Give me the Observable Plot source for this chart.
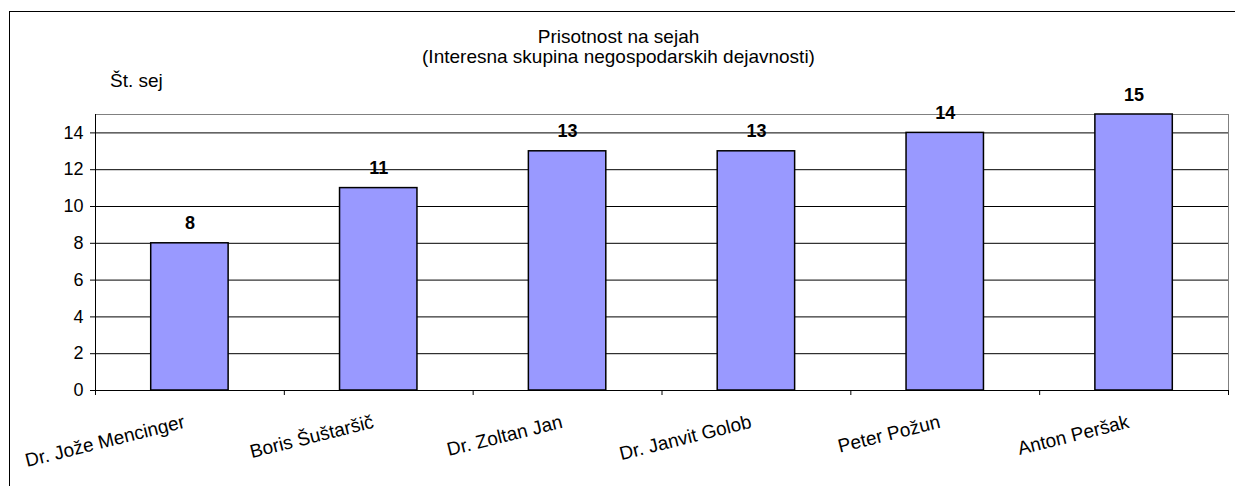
<!DOCTYPE html>
<html><head><meta charset="utf-8">
<script src="https://cdn.jsdelivr.net/npm/d3@7"></script>
<script src="https://cdn.jsdelivr.net/npm/@observablehq/plot@0.6"></script>
<style>
body{margin:0;overflow:hidden;background:#fff;font-family:"Liberation Sans",Arial,sans-serif;}
#wrap{position:relative;width:1235px;height:486px;overflow:hidden;}
#chart{position:absolute;left:0;top:0;}
#border{position:absolute;left:9px;top:11px;width:1400px;height:600px;border-left:1px solid #000;border-top:1px solid #000;pointer-events:none;}
.t{position:absolute;font-size:19px;line-height:19px;color:#000;white-space:nowrap;}
.c{left:0;width:1235px;text-align:center;}
</style></head><body>
<div id="wrap">
<div id="chart"></div>
<div class="t c" style="top:27px;padding-left:1px">Prisotnost na sejah</div>
<div class="t c" style="top:47px;padding-left:1px">(Interesna skupina negospodarskih dejavnosti)</div>
<div class="t" style="top:71px;left:110px">Št. sej</div>
<div id="border"></div>
</div>
<script>
const names = ["Dr. Jože Mencinger", "Boris Šuštaršič", "Dr. Zoltan Jan", "Dr. Janvit Golob", "Peter Požun", "Anton Peršak"];
const sessions = [8, 11, 13, 13, 14, 15];
const yTicks = [0, 2, 4, 6, 8, 10, 12, 14];
const yMax = 15;

const data = names.map((name, i) => ({name, value: sessions[i]}));

const W = 1235, H = 486, mL = 95, mR = 7, mT = 114, mB = 96;
const step = (W - mL - mR) / names.length;

const plot = Plot.plot({
  width: W, height: H,
  marginLeft: mL, marginRight: mR, marginTop: mT, marginBottom: mB,
  style: {background: "transparent", fontFamily: "'Liberation Sans', Arial, sans-serif", fontSize: "18px", color: "#000"},
  x: {domain: names, paddingInner: 0.59, paddingOuter: 0.295, round: false, axis: null, label: null},
  y: {domain: [0, yMax], axis: null, label: null},
  marks: [
    Plot.ruleY(yTicks.filter(d => d > 0), {stroke: "#000", strokeWidth: 1}),
    Plot.frame({stroke: "#808080"}),
    Plot.barY(data, {x: "name", y: "value", fill: "#9999FF", stroke: "#000", strokeWidth: 1.5}),
    Plot.ruleY([0], {stroke: "#000"}),
    Plot.axisY({ticks: yTicks, tickSize: 5, tickPadding: 7, fontSize: 18, label: null}),
    Plot.axisX({ticks: names, tickSize: 5, tickFormat: () => "", dx: -step / 2, label: null}),
    Plot.axisX({ticks: names.slice(-1), tickSize: 5, tickFormat: () => "", dx: step / 2, label: null}),
    Plot.text(data, {x: "name", y: "value", text: d => String(d.value), dy: -14, lineAnchor: "bottom", fontWeight: "bold", fontSize: 18}),
    Plot.text(names, {x: d => d, frameAnchor: "bottom", text: d => d, textAnchor: "end", lineAnchor: "bottom", rotate: -14, dx: -4, dy: 37, fontSize: 19})
  ]
});

// left axis line, placed from the plot's own scales
const xs = plot.scale("x"), ys = plot.scale("y");
d3.select(plot).append("line")
  .attr("x1", xs.range[0] + 0.5).attr("x2", xs.range[0] + 0.5)
  .attr("y1", ys.range[0]).attr("y2", ys.range[1])
  .attr("stroke", "#000");

document.getElementById("chart").appendChild(plot);
</script>
</body></html>
